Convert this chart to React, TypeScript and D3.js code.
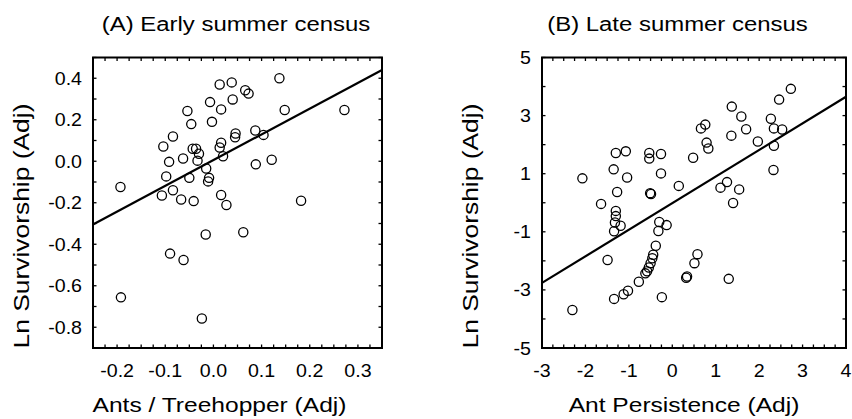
import React from 'react';
import * as d3 from 'd3';

// panel A: early summer census
const earlyX = [
  0.137, 0.038, 0.013, 0.066, 0.073, -0.007, 0.04, 0.016, -0.054, 0.148,
  0.272, -0.046, -0.003, -0.084, 0.046, 0.045, 0.087, 0.104, -0.104, 0.016,
  0.013, -0.043, -0.036, -0.03, 0.02, -0.063, -0.092, -0.033, 0.088, 0.121,
  -0.015, -0.098, -0.05, -0.009, -0.011, -0.193, -0.084, -0.107, -0.067, -0.041,
  0.016, 0.027, 0.182, -0.016, 0.062, -0.09, -0.062, -0.192, -0.024,
];
const earlyY = [
  0.4, 0.38, 0.37, 0.342, 0.326, 0.285, 0.298, 0.25, 0.242, 0.247,
  0.247, 0.179, 0.19, 0.119, 0.134, 0.116, 0.148, 0.127, 0.071, 0.089,
  0.066, 0.06, 0.06, 0.036, 0.024, 0.013, -0.003, 0.003, -0.015, 0.007,
  -0.035, -0.073, -0.08, -0.08, -0.097, -0.124, -0.14, -0.165, -0.184, -0.192,
  -0.163, -0.211, -0.19, -0.353, -0.342, -0.445, -0.476, -0.656, -0.758,
];
const earlyFit = [[-0.25, -0.305], [0.35, 0.44]];

// panel B: late summer census
const lateX = [
  2.46, 1.37, 1.59, 1.7, 2.27, 2.34, 1.97, 1.36, 0.66, 0.76,
  0.79, 0.83, 0.48, 2.34, 2.33, -1.3, -1.07, -0.53, -0.53, -0.26,
  -0.26, -1.35, -1.04, -2.07, 0.15, 1.11, 1.26, 1.54, -1.27, -0.51,
  -0.49, -1.64, 1.4, -1.3, -1.3, -1.32, -1.19, -1.34, -0.3, -0.13,
  -0.32, -0.38, -0.44, -0.46, -0.5, -0.54, -0.58, -0.62, -0.77, -1.02,
  -1.12, -1.34, -0.24, -2.3, -1.49, 0.32, 0.34, 0.51, 0.58, 1.3,
  2.73, 2.53,
];
const lateY = [
  3.55, 3.31, 2.97, 2.53, 2.89, 2.56, 2.11, 2.31, 2.56, 2.69,
  2.07, 1.87, 1.55, 1.96, 1.13, 1.71, 1.77, 1.71, 1.52, 1.68,
  1.01, 1.15, 0.87, 0.84, 0.58, 0.52, 0.71, 0.46, 0.37, 0.33,
  0.3, -0.04, -0.01, -0.28, -0.46, -0.68, -0.79, -0.98, -0.66, -0.77,
  -0.97, -1.48, -1.79, -1.91, -2.08, -2.23, -2.36, -2.43, -2.72, -3.03,
  -3.15, -3.31, -3.25, -3.69, -1.97, -2.58, -2.54, -2.08, -1.77, -2.62,
  3.92, 2.52,
];
const lateFit = [[-3, -2.76], [4, 3.65]];

const earlyXLabels = [-0.2, -0.1, 0.0, 0.1, 0.2, 0.3];
const earlyYLabels = [0.4, 0.2, 0.0, -0.2, -0.4, -0.6, -0.8];
const lateXLabels = [-3, -2, -1, 0, 1, 2, 3, 4];
const lateYLabels = [5, 3, 1, -1, -3, -5];

const font = '"Liberation Sans", Arial, Helvetica, sans-serif';

// d3.format gives a unicode minus, the figure uses a plain hyphen
const hyphen = f => v => f(v).replace('\u2212', '-');

const Txt = ({ x, y, size, sx = 1.1, anchor = 'middle', rotate = 0, children }) => (
  <text
    transform={`translate(${x},${y}) rotate(${rotate}) scale(${sx},1)`}
    fontSize={size}
    textAnchor={anchor}
    fontFamily={font}
    fill="#000"
  >
    {children}
  </text>
);

const Panel = ({ box, xDomain, yDomain, xs, ys, fit, xLabels, yLabels, xStep, yStep,
  fmt, title, titleX, xTitle, xTitleX }) => {
  const x = d3.scaleLinear().domain(xDomain).range([box.left, box.right]);
  const y = d3.scaleLinear().domain(yDomain).range([box.bottom, box.top]);
  const xTicks = d3.range(xDomain[0], xDomain[1] + xStep / 2, xStep);
  const yTicks = d3.range(yDomain[0], yDomain[1] + yStep / 2, yStep);
  const line = d3.line().x(d => x(d[0])).y(d => y(d[1]));
  const t = 3.5;

  return (
    <g>
      <Txt x={titleX} y={31} size={21} sx={1.14}>{title}</Txt>
      {xTicks.map((v, i) => (
        <g key={'xt' + i} stroke="#000" strokeWidth={1.3}>
          <line x1={x(v)} x2={x(v)} y1={box.bottom} y2={box.bottom - t} />
          <line x1={x(v)} x2={x(v)} y1={box.top} y2={box.top + t} />
        </g>
      ))}
      {yTicks.map((v, i) => (
        <g key={'yt' + i} stroke="#000" strokeWidth={1.3}>
          <line x1={box.left} x2={box.left + t} y1={y(v)} y2={y(v)} />
          <line x1={box.right} x2={box.right - t} y1={y(v)} y2={y(v)} />
        </g>
      ))}
      <rect x={box.left} y={box.top} width={box.right - box.left} height={box.bottom - box.top}
        fill="none" stroke="#000" strokeWidth={2} />
      {xLabels.map(v => (
        <Txt key={'xl' + v} x={x(v)} y={box.bottom + 29} size={18} sx={1.09}>{fmt(v)}</Txt>
      ))}
      {yLabels.map(v => (
        <Txt key={'yl' + v} x={box.left - 11} y={y(v) + 6.5} size={18} sx={1.09} anchor="end">{fmt(v)}</Txt>
      ))}
      <path d={line(fit)} stroke="#000" strokeWidth={2.2} fill="none" />
      {xs.map((v, i) => (
        <circle key={'p' + i} cx={x(v)} cy={y(ys[i])} r={4.6} fill="none" stroke="#000" strokeWidth={1.3} />
      ))}
      <Txt x={xTitleX} y={412} size={21} sx={1.17}>{xTitle}</Txt>
      <Txt x={box.left - 64} y={226} size={22} sx={1.2} rotate={-90}>Ln Survivorship (Adj)</Txt>
    </g>
  );
};

export default function App() {
  return (
    <svg width={852} height={419} style={{ display: 'block', position: 'absolute', left: 0, top: 0, background: '#fff' }}>
      <Panel
        box={{ left: 93, right: 382, top: 57.5, bottom: 348 }}
        xDomain={[-0.25, 0.35]}
        yDomain={[-0.9, 0.5]}
        xs={earlyX}
        ys={earlyY}
        fit={earlyFit}
        xLabels={earlyXLabels}
        yLabels={earlyYLabels}
        xStep={0.025}
        yStep={0.1}
        fmt={hyphen(d3.format('.1f'))}
        title="(A) Early summer census"
        titleX={236}
        xTitle="Ants / Treehopper (Adj)"
        xTitleX={219.5}
      />
      <Panel
        box={{ left: 542, right: 846, top: 57.5, bottom: 348 }}
        xDomain={[-3, 4]}
        yDomain={[-5, 5]}
        xs={lateX}
        ys={lateY}
        fit={lateFit}
        xLabels={lateXLabels}
        yLabels={lateYLabels}
        xStep={0.25}
        yStep={1}
        fmt={hyphen(d3.format('d'))}
        title="(B) Late summer census"
        titleX={677.5}
        xTitle="Ant Persistence (Adj)"
        xTitleX={684}
      />
    </svg>
  );
}
